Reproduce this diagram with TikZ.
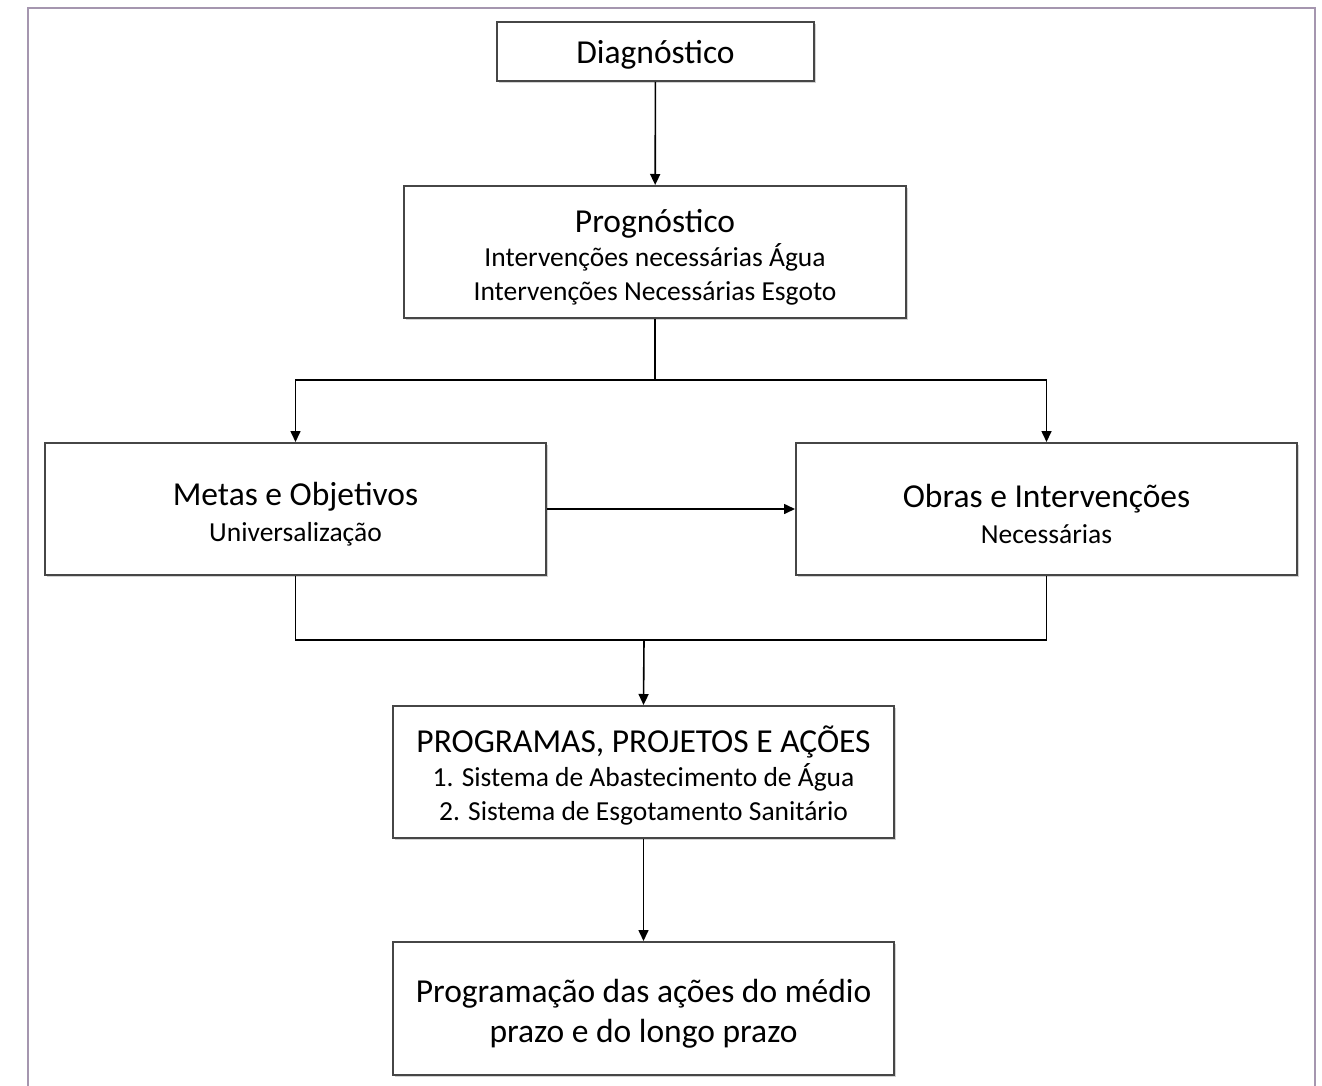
\documentclass[tikz,border=0pt]{standalone}
\usepackage{fontspec}
\setmainfont{Carlito}
\usetikzlibrary{arrows.meta,shadows}
\definecolor{framec}{RGB}{165,150,175}
\definecolor{boxc}{RGB}{70,70,70}
\tikzset{
  box/.style={draw=boxc, line width=2pt, fill=white, align=center, inner sep=0pt,
    drop shadow={shadow xshift=2pt, shadow yshift=-2pt, opacity=0.35, fill=gray}},
  conn/.style={line width=1.6pt, draw=black},
  arr/.style={conn, -{Triangle[length=11pt,width=10pt]}},
}
\newcommand{\subt}[1]{{\fontsize{27.5}{34}\selectfont #1}}
\newcommand{\tstrut}{\rule{0pt}{33pt}}
\begin{document}
\begin{tikzpicture}[x=1pt,y=-1pt]
\useasboundingbox (0,0) rectangle (1322,1086);
\fill[white] (0,0) rectangle (1322,1086);
\draw[framec, line width=1.5pt] (28,1086) -- (28,8) -- (1315,8) -- (1315,1086);

\node[box, minimum width=317pt, minimum height=59pt, font=\fontsize{33.5}{38}\selectfont] (diag) at (655.5,51.5) {\rule{0pt}{30pt}Diagnóstico};
\node[box, minimum width=502pt, minimum height=132pt, font=\fontsize{33.5}{34}\selectfont] (prog) at (655,252)
  {\tstrut Prognóstico\\ \subt{Intervenções necessárias Água}\\ \subt{Intervenções Necessárias Esgoto}};
\node[box, minimum width=501pt, minimum height=132pt, font=\fontsize{33.5}{36}\selectfont] (metas) at (295.5,509)
  {\tstrut Metas e Objetivos\\ \subt{Universalização}};
\node[box, minimum width=501pt, minimum height=132pt, font=\fontsize{33.5}{36}\selectfont] (obras) at (1046.5,509)
  {\tstrut Obras e Intervenções\\ \subt{Necessárias}};
\node[box, minimum width=501pt, minimum height=132pt, font=\fontsize{33.5}{34}\selectfont] (ppa) at (643.5,772)
  {\tstrut PROGRAMAS, PROJETOS E AÇÕES\\ \subt{1. Sistema de Abastecimento de Água}\\ \subt{2. Sistema de Esgotamento Sanitário}};
\node[box, minimum width=501pt, minimum height=133pt, font=\fontsize{33.5}{40}\selectfont] (pacoes) at (643.5,1008.5)
  {\tstrut Programação das ações do médio\\prazo e do longo prazo};

\coordinate (split) at (655,380);
\coordinate (join) at (644,640);

\draw[arr] (diag) -- (prog);
\draw[conn] (prog.south) -- (split);
\draw[arr] (split) -| (metas.north);
\draw[arr] (split) -| (obras.north);
\draw[arr] (metas) -- (obras);
\draw[conn] (metas.south) |- (join);
\draw[conn] (obras.south) |- (join);
\draw[arr] (join) -- (ppa.north);
\draw[arr] (ppa) -- (pacoes);
\end{tikzpicture}
\end{document}
